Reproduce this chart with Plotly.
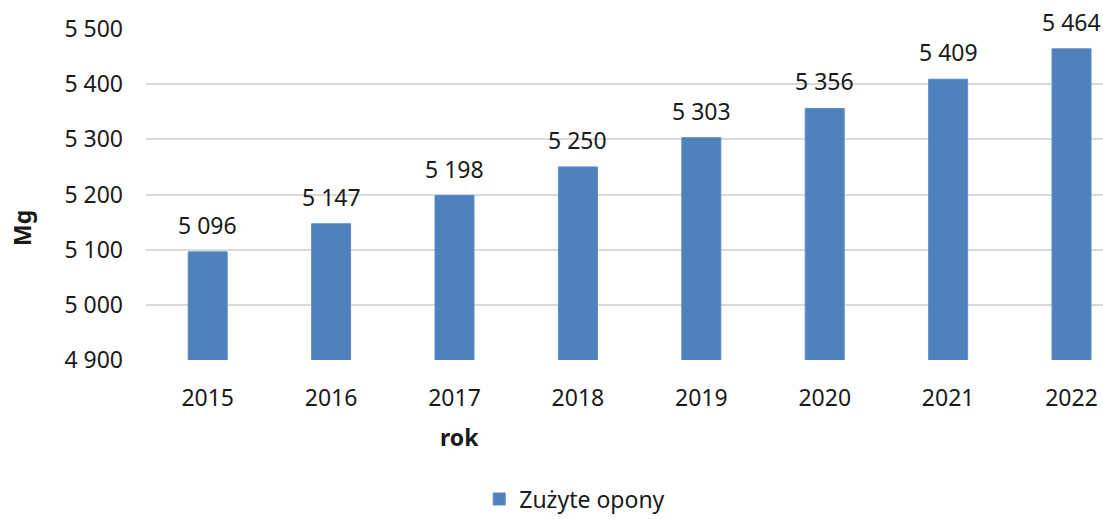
import plotly.graph_objects as go

# Waste tyres collected per year (Mg)
years = ["2015", "2016", "2017", "2018", "2019", "2020", "2021", "2022"]
tyres_mg = [5096, 5147, 5198, 5250, 5303, 5356, 5409, 5464]
y_ticks = [4900, 5000, 5100, 5200, 5300, 5400, 5500]

series_name = "Zużyte opony"
bar_color = "#4F81BD"
font_family = "Noto Sans, Open Sans, sans-serif"
text_color = "#1a1a1a"


def fmt(v):
    return f"{v:,}".replace(",", " ")


fig = go.Figure()
fig.add_trace(go.Bar(
    x=years,
    y=tyres_mg,
    name=series_name,
    marker=dict(color=bar_color, line=dict(color="#5B8CC6", width=1)),
    width=0.316,
    showlegend=True,
))

# value labels above the bars (x given as category index)
for i, v in enumerate(tyres_mg):
    fig.add_annotation(
        x=i, y=v, xref="x", yref="y", text=fmt(v), showarrow=False,
        yanchor="middle", yshift=27,
        font=dict(family=font_family, size=23, color=text_color),
    )

fig.update_layout(
    width=1103, height=519,
    margin=dict(l=146, r=0, t=29, b=159, autoexpand=False),
    plot_bgcolor="white", paper_bgcolor="white",
    font=dict(family=font_family, size=23, color=text_color),
    legend=dict(
        orientation="h", x=0.448, xanchor="center", y=-0.42, yanchor="middle",
        font=dict(family=font_family, size=23, color=text_color),
    ),
    showlegend=True,
)

fig.update_xaxes(
    type="category",
    range=[-0.5, 7.255],
    showgrid=False,
    showline=False,
    ticks="",
    ticklabelstandoff=22,
    tickfont=dict(family=font_family, size=23, color=text_color),
)

fig.update_yaxes(
    range=[4900, 5500],
    tickvals=y_ticks,
    ticktext=[fmt(v) for v in y_ticks],
    showgrid=True,
    gridcolor="#D9D9D9",
    gridwidth=1.5,
    zeroline=False,
    showline=False,
    ticks="",
    ticklabelstandoff=22,
    tickfont=dict(family=font_family, size=23, color=text_color),
)

plot_h = 519 - 159 - 29
plot_w = 1103 - 146

# axis titles
fig.add_annotation(
    text="<b>rok</b>", xref="paper", yref="paper",
    x=(459 - 146) / plot_w, y=-(437 - 360) / plot_h,
    showarrow=False, xanchor="center", yanchor="middle",
    font=dict(family=font_family, size=23, color=text_color),
)
fig.add_annotation(
    text="<b>Mg</b>", xref="paper", yref="paper",
    x=-(146 - 22) / plot_w, y=(360 - 228) / plot_h,
    showarrow=False, xanchor="center", yanchor="middle", textangle=-90,
    font=dict(family=font_family, size=23, color=text_color),
)

fig.write_html("out.html")
